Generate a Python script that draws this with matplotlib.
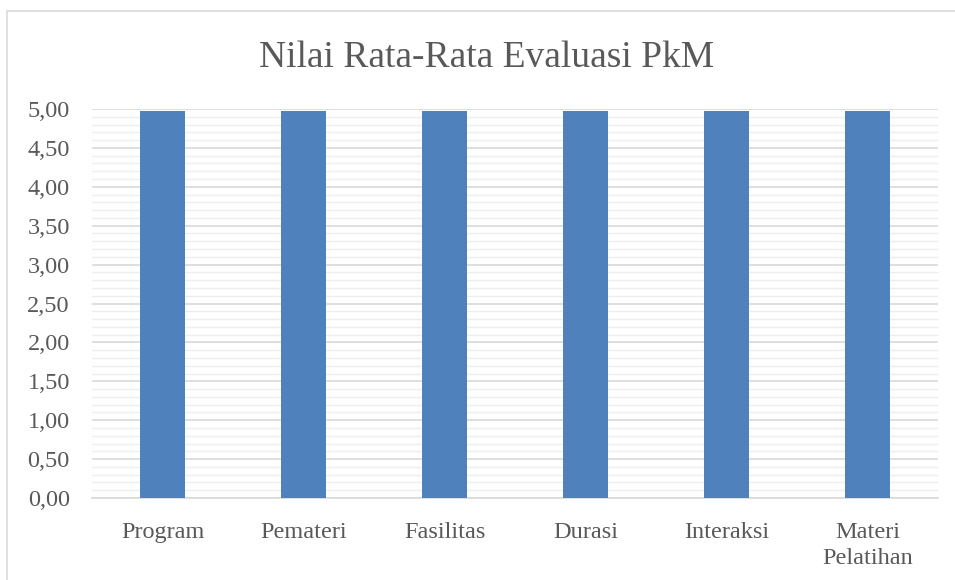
import numpy as np
import matplotlib as mpl
mpl.use('Agg')
import matplotlib.pyplot as plt
from matplotlib.ticker import MultipleLocator, FuncFormatter
from matplotlib.patches import Rectangle

kategori = ['Program', 'Pemateri', 'Fasilitas', 'Durasi', 'Interaksi', 'Materi\nPelatihan']
nilai = [4.98, 4.98, 4.98, 4.98, 4.98, 4.98]

plt.rcParams['font.family'] = ['Liberation Serif', 'DejaVu Serif']

fig = plt.figure(figsize=(9.55, 5.8), dpi=100)
ax = fig.add_axes([92 / 955, 1 - 498 / 580, 846 / 955, 389 / 580])

x = np.arange(len(kategori))
ax.bar(x, nilai, width=0.32, color='#4f81bd', zorder=3)

ax.set_xlim(-0.5, len(kategori) - 0.5)
ax.set_ylim(0, 5)
ax.yaxis.set_major_locator(MultipleLocator(0.5))
ax.yaxis.set_minor_locator(MultipleLocator(0.1))
ax.yaxis.set_major_formatter(FuncFormatter(lambda v, p: f'{v:.2f}'.replace('.', ',')))
ax.grid(axis='y', which='major', color='#d9d9d9', linewidth=1.2, zorder=1)
ax.grid(axis='y', which='minor', color='#eeeeee', linewidth=1.0, zorder=0)

for s in ['top', 'right', 'left']:
    ax.spines[s].set_visible(False)
ax.spines['bottom'].set_color('#d9d9d9')
ax.spines['bottom'].set_linewidth(1.2)

ax.set_xticks(x)
ax.set_xticklabels(kategori, fontsize=17.5, color='#595959', linespacing=1.35)
ax.tick_params(axis='x', length=0, pad=17)
ax.tick_params(axis='y', which='both', length=0, pad=16, labelsize=17.5, labelcolor='#595959')

fig.text(487 / 955, 1 - 67 / 580, 'Nilai Rata-Rata Evaluasi PkM', ha='center', va='baseline',
         fontsize=27, color='#595959')

# bingkai chart
fig.patches.append(Rectangle((7 / 955, -0.1), 1.1, 1 - 11 / 580 + 0.1, transform=fig.transFigure,
                             fill=False, edgecolor='#d9d9d9', linewidth=1.2))

plt.savefig('out.png', dpi=100)
